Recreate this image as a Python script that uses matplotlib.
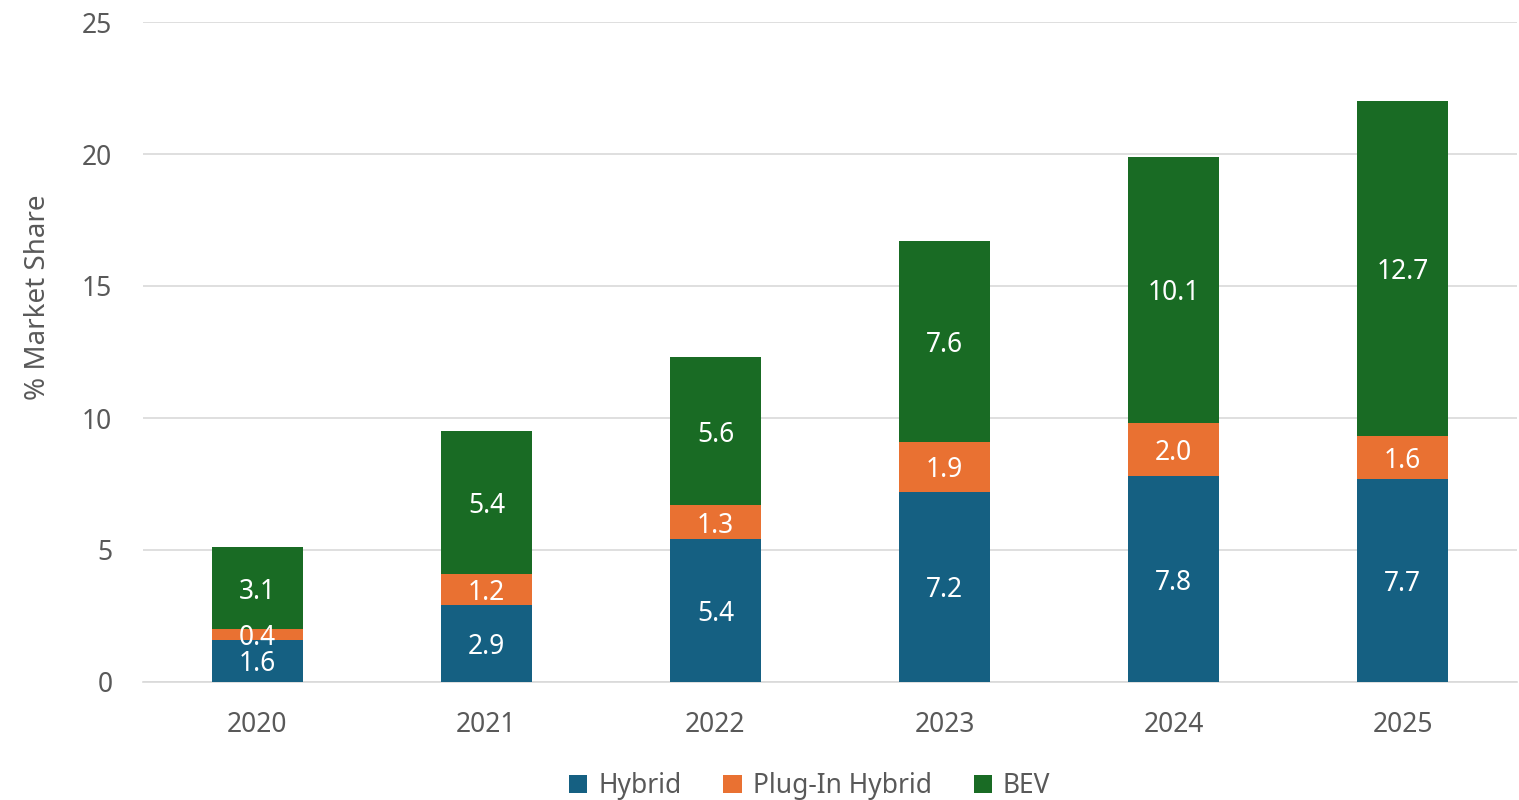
import matplotlib.pyplot as plt
import numpy as np

plt.rcParams['font.family'] = ['Noto Sans', 'DejaVu Sans']

years = ["2020", "2021", "2022", "2023", "2024", "2025"]
hybrid = [1.6, 2.9, 5.4, 7.2, 7.8, 7.7]
plugin = [0.4, 1.2, 1.3, 1.9, 2.0, 1.6]
bev = [3.1, 5.4, 5.6, 7.6, 10.1, 12.7]

colores = {"Hybrid": "#156082", "Plug-In Hybrid": "#E97132", "BEV": "#196B24"}
gris = "#595959"

fig = plt.figure(figsize=(15.19, 8.0), dpi=100)
ax = fig.add_axes([0.0941, 0.1475, 0.9046, 0.825])

x = np.arange(len(years))
ancho = 0.4
base = np.zeros(len(years))
for nombre, valores in [("Hybrid", hybrid), ("Plug-In Hybrid", plugin), ("BEV", bev)]:
    valores = np.array(valores)
    ax.bar(x, valores, ancho, bottom=base, color=colores[nombre], label=nombre, zorder=3)
    for xi, b, v in zip(x, base, valores):
        ax.text(xi, b + v / 2, f"{v:.1f}", ha="center", va="center_baseline", color="white",
                fontsize=19, zorder=4)
    base = base + valores

ax.set_xlim(-0.5, len(years) - 0.5)
ax.set_ylim(0, 25)
ax.set_yticks(np.arange(0, 26, 5))
ax.set_xticks(x)
ax.set_xticklabels(years)
ax.grid(axis="y", color="#D9D9D9", linewidth=1.2, zorder=0)

for lado in ["top", "right", "left"]:
    ax.spines[lado].set_visible(False)
ax.spines["bottom"].set_color("#D9D9D9")
ax.spines["bottom"].set_linewidth(1.2)
ax.tick_params(axis="both", length=0, labelsize=19, labelcolor=gris)
ax.tick_params(axis="y", pad=22)
ax.tick_params(axis="x", pad=21)

ax.set_ylabel("% Market Share", fontsize=20, color=gris)
ax.yaxis.set_label_coords(-0.066, 0.583)

fig.legend(loc="lower center", bbox_to_anchor=(0.533, -0.03), ncol=3, frameon=False,
           fontsize=19, labelcolor=gris, handlelength=0.7, handleheight=0.7,
           handletextpad=0.4, columnspacing=1.6)

fig.savefig("out.png", dpi=100)
